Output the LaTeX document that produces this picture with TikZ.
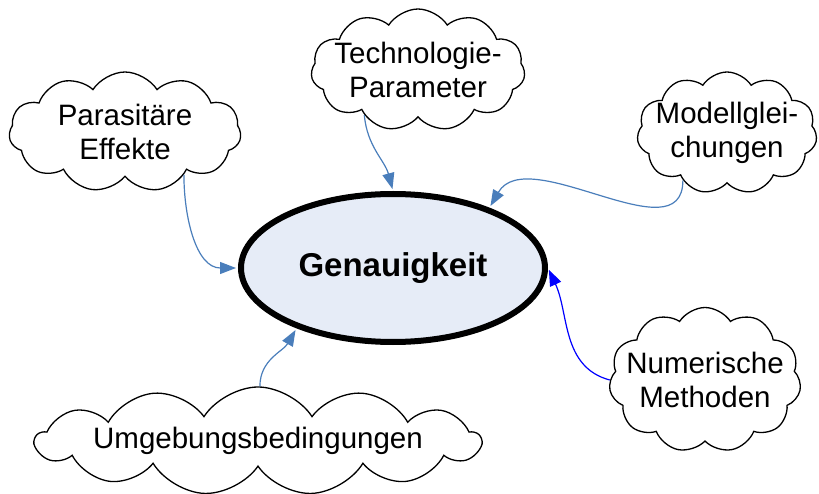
\documentclass[tikz,border=0pt]{standalone}
\usepackage{fontspec}
\setmainfont{Liberation Sans}
\usetikzlibrary{shapes.symbols,shapes.geometric,arrows.meta}

\definecolor{linkblue}{RGB}{74,126,187}
\definecolor{genfill}{RGB}{230,236,247}

\begin{document}
\begin{tikzpicture}
  [x=1pt,y=1pt,
   every node/.style={inner sep=0pt},
   idea/.style={cloud,cloud puffs=11,cloud puff arc=115,cloud ignores aspect,draw,line width=1.3pt,fill=white},
   link/.style={line width=1.2pt,shorten >=2pt,-{Triangle[length=16pt,width=12pt]}},
   lbl/.style={align=center,font=\fontsize{29.5}{34}\selectfont}]
  \useasboundingbox (0,0) rectangle (819,-494);
  \node[ellipse,draw,line width=6pt,fill=genfill,minimum width=304pt,minimum height=148pt,
        font=\bfseries\fontsize{33}{38}\selectfont] (gen) at (393,-268) {Genauigkeit};
  \node[idea,minimum width=232pt,minimum height=120pt,label={[lbl]center:{Parasitäre\\Effekte}}] (para) at (125,-132) {};
  \node[idea,minimum width=214pt,minimum height=122pt,label={[lbl]center:{Technologie-\\Parameter}}] (tech) at (418,-70) {};
  \node[idea,minimum width=180pt,minimum height=122pt,label={[lbl]center:{Modellglei-\\chungen}}] (model) at (727,-133) {};
  \node[idea,minimum width=192pt,minimum height=145pt,label={[lbl]center:{Numerische\\Methoden}}] (num) at (705,-380) {};
  \node[idea,cloud puffs=13,minimum width=445pt,minimum height=108pt,label={[lbl]center:Umgebungsbedingungen}] (umg) at (258,-441) {};
  \foreach \from/\to/\o/\i/\c in {para.-36/gen.west/-90/180/linkblue, tech.-140/gen.north/-85/105/linkblue,
      model.-133/gen.32/-90/60/linkblue, num.west/gen.east/165/-65/blue, umg.88/gen.-148/90/-120/linkblue}
    \draw[link,draw=\c] (\from) to[out=\o,in=\i] (\to);
\end{tikzpicture}
\end{document}
